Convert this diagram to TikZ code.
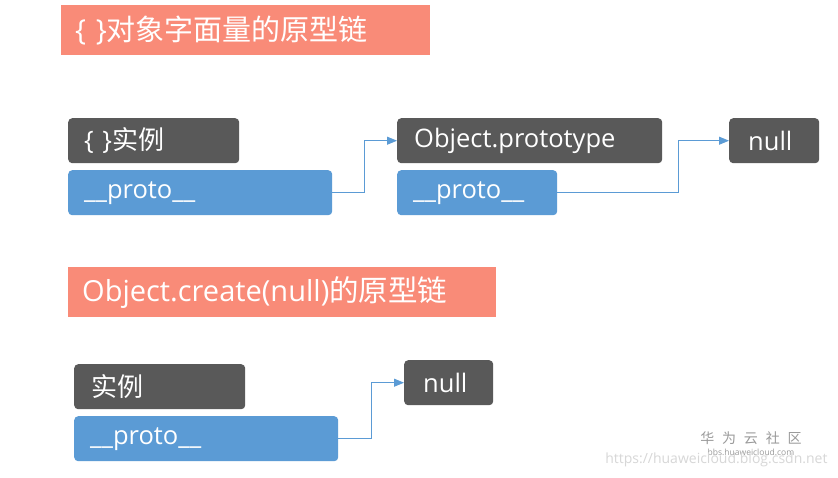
\documentclass[tikz,border=0pt]{standalone}
\usepackage{fontspec}
\setmainfont{Open Sans}
\newfontfamily\cjk{Noto Sans CJK SC}
\usetikzlibrary{arrows.meta}
\definecolor{salmon}{HTML}{F98B78}
\definecolor{darkbox}{HTML}{595959}
\definecolor{bluebox}{HTML}{5B9BD5}
\definecolor{wm}{HTML}{9A9A9A}
\tikzset{
  titlebox/.style={fill=salmon, text=white, anchor=north west, inner xsep=0pt, align=left, font=\fontsize{29}{31}\selectfont, minimum height=50pt},
  darknode/.style={fill=darkbox, text=white, rounded corners=4pt, anchor=north west, minimum height=45pt, inner xsep=0pt, align=left, font=\fontsize{25.5}{27}\selectfont},
  bluenode/.style={darknode, fill=bluebox},
  arr/.style={draw=bluebox, line width=0.9pt, -{Triangle[length=10pt,width=8pt]}},
}
\begin{document}
\begin{tikzpicture}[x=1pt,y=-1pt]
\useasboundingbox (0,0) rectangle (838,477);
\fill[white] (0,0) rectangle (838,477);
% title 1
\node[titlebox, text width=369pt] (t1) at (61,5) {\hspace*{14pt}\{\,\,\}{\cjk\fontsize{29}{31}\selectfont 对象字面量的原型链}};
% first chain
\node[darknode, text width=171pt] (inst1) at (68,118) {\hspace*{16pt}\{\,\,\}{\cjk\fontsize{26}{28}\selectfont 实例}};
\node[bluenode, text width=264pt] (p1) at (68,170) {\hspace*{16pt}\_\_proto\_\_};
\node[darknode, text width=265pt] (op) at (397,118) {\hspace*{17pt}Object.prototype};
\node[bluenode, text width=160pt] (p2) at (397,170) {\hspace*{16pt}\_\_proto\_\_};
\node[darknode, text width=90pt] (n1) at (729,118) {\hspace*{19pt}null};
\draw[arr] (p1.east) -- ++(32,0) |- (op.west);
\draw[arr] (p2.east) -- ++(121,0) |- (n1.west);
% title 2
\node[titlebox, text width=428pt] (t2) at (68,267) {\hspace*{14pt}Object.create(null){\cjk\fontsize{29.5}{32}\selectfont 的原型链}};
% second chain
\node[darknode, text width=171pt] (inst2) at (74,364) {\hspace*{17pt}{\cjk\fontsize{26}{28}\selectfont 实例}};
\node[bluenode, text width=264pt] (p3) at (74,416) {\hspace*{16pt}\_\_proto\_\_};
\node[darknode, text width=89pt] (n2) at (404,360) {\hspace*{19pt}null};
\draw[arr] (p3.east) -- ++(33,0) |- (n2.west);
% watermark
\node[text=wm, font=\cjk\fontsize{14}{15}\selectfont, anchor=center] (wm1) at (751,438) {华\,\, 为\,\, 云\,\, 社\,\, 区};
\node[text=wm, font=\fontsize{8.5}{9}\selectfont, anchor=center] (wm2) at (751,452) {bbs.huaweicloud.com};
\node[text=wm!40, font=\fontsize{14}{15}\selectfont, anchor=east] (wm3) at (831,460) {https://huaweicloud.blog.csdn.net};
\end{tikzpicture}
\end{document}
